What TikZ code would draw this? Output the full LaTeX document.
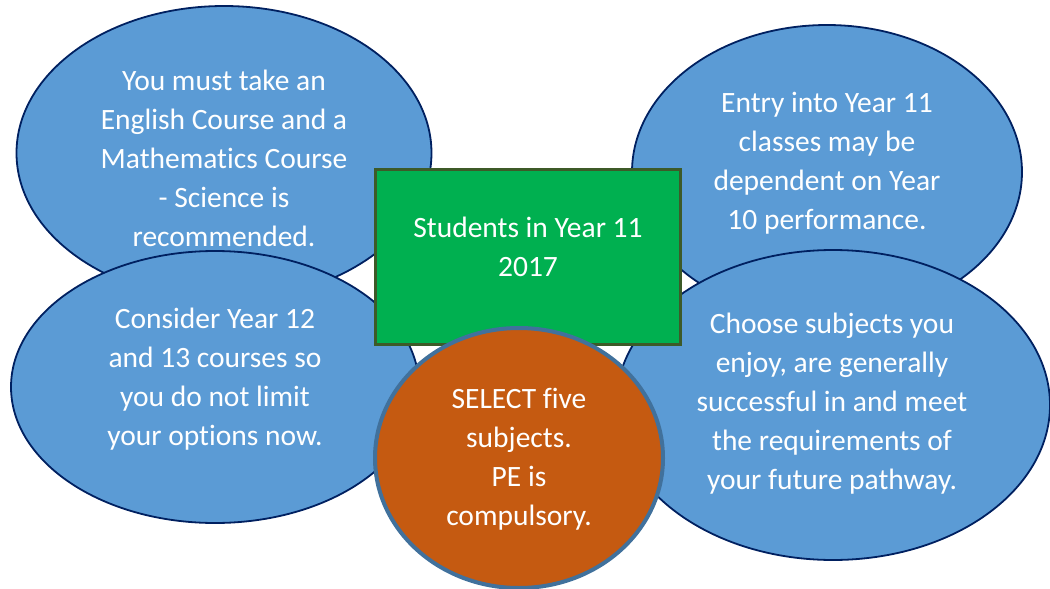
\documentclass[tikz,border=0pt]{standalone}
\usepackage{fontspec}
\setmainfont[Ligatures=NoCommon]{Carlito}
\usetikzlibrary{shapes.geometric}
\definecolor{bubblefill}{RGB}{91,155,213}
\definecolor{bubbleline}{RGB}{0,32,96}
\definecolor{titlegreen}{RGB}{0,176,80}
\definecolor{titleline}{RGB}{61,90,40}
\definecolor{selectorange}{RGB}{197,90,17}
\definecolor{selectline}{RGB}{65,113,156}
\tikzset{
  bubble/.style={ellipse, draw=bubbleline, fill=bubblefill, line width=1.8pt, inner sep=0pt},
  words/.style={text=white, align=center, inner sep=0pt, font=\fontsize{29.5}{39}\selectfont}
}
\begin{document}
\begin{tikzpicture}[x=1pt,y=-1pt]
		\useasboundingbox (0,0) rectangle (1050,589);
		% Bubbles
		\node[bubble, minimum width=415pt, minimum height=294pt] (must) at (224,153) {};
		\node[bubble, minimum width=390pt, minimum height=294pt] (entry) at (827,172) {};
		\node[bubble, minimum width=408pt, minimum height=272pt] (consider) at (215,387) {};
		\node[bubble, minimum width=434pt, minimum height=310pt] (choose) at (833,405) {};
		
		% Middle
		\node[draw=titleline, fill=titlegreen, line width=3pt, minimum width=305pt, minimum height=175pt] (title) at (528,257) {};
		\node[ellipse, draw=selectline, fill=selectorange, line width=4pt, minimum width=288pt, minimum height=260pt] (select) at (519,458) {};
		
		% Texts
		\node[words] (musttext) at (224,158) {You must take an\\English Course and a\\Mathematics Course\\- Science is\\recommended.};
		\node[words] (entrytext) at (827,163) {Entry into Year 11\\classes may be\\dependent on Year\\10 performance.};
		\node[words] (considertext) at (215,379) {Consider Year 12\\and 13 courses so\\you do not limit\\your options now.};
		\node[words] (choosetext) at (832,404) {Choose subjects you\\enjoy, are generally\\successful in and meet\\the requirements of\\your future pathway.};
		\node[words] (titletext) at (528,247) {Students in Year 11\\2017};
		\node[words] (selecttext) at (519,459) {SELECT five\\subjects.\\PE is\\compulsory.};
	\end{tikzpicture}
\end{document}
